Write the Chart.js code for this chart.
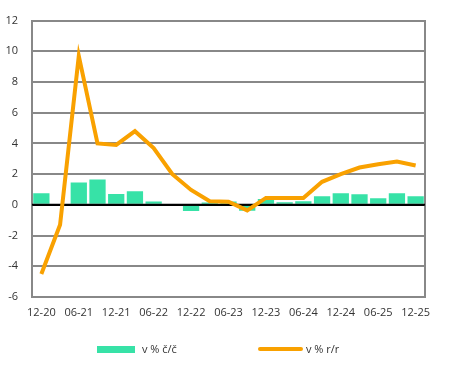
<!DOCTYPE html>
<html>
<head>
<meta charset="utf-8">
<script src="https://cdn.jsdelivr.net/npm/chart.js@4/dist/chart.umd.min.js"></script>
<style>
  html, body { margin: 0; padding: 0; background: #fff; }
  #wrap { position: relative; width: 451px; height: 367px; }
  canvas { display: block; }
  .lg { position: absolute; font-family: "Open Sans", sans-serif; font-size: 11px; color: #333; line-height: 14px; white-space: nowrap; }
  .sw { position: absolute; }
</style>
</head>
<body>
<div id="wrap">
  <canvas id="c" width="451" height="367"></canvas>
  <div class="sw" id="sw1" style="left:97px; top:346px; width:38px; height:7px;"></div>
  <div class="lg" id="lt1" style="left:142px; top:342px;"></div>
  <div class="sw" id="sw2" style="left:258px; top:347px; width:45px; height:4px; border-radius:2px;"></div>
  <div class="lg" id="lt2" style="left:306px; top:342px;"></div>
</div>
<script>
const categories = ["12-20","03-21","06-21","09-21","12-21","03-22","06-22","09-22","12-22","03-23","06-23","09-23","12-23","03-24","06-24","09-24","12-24","03-25","06-25","09-25","12-25"];
const qoqValues = [0.75, 0.0, 1.45, 1.65, 0.7, 0.88, 0.22, 0.0, -0.4, 0.15, 0.22, -0.38, 0.38, 0.17, 0.23, 0.56, 0.75, 0.69, 0.43, 0.75, 0.56];
const yoyValues = [-4.5, -1.3, 9.7, 4.0, 3.9, 4.8, 3.7, 2.0, 0.97, 0.24, 0.2, -0.36, 0.45, 0.45, 0.45, 1.5, 2.0, 2.43, 2.65, 2.82, 2.56];
const seriesNames = ["v % č/č", "v % r/r"];
const yTicks = { min: -6, max: 12, step: 2 };

const green = "#37E2A7";
const orange = "#F9A100";
const gridGray = "#888888";
const textColor = "#333333";
const fontFamily = "'Open Sans', sans-serif";

document.getElementById('sw1').style.background = green;
document.getElementById('sw2').style.background = orange;
document.getElementById('lt1').textContent = seriesNames[0];
document.getElementById('lt2').textContent = seriesNames[1];

const zeroLine = {
  id: 'zeroLine',
  beforeDatasetDraw(chart, args) {
    if (args.index !== 1) return;
    const y = chart.scales.y.getPixelForValue(0);
    const ctx = chart.ctx;
    ctx.save();
    ctx.strokeStyle = '#000';
    ctx.lineWidth = 2;
    ctx.beginPath();
    ctx.moveTo(chart.chartArea.left, y);
    ctx.lineTo(chart.chartArea.right, y);
    ctx.stroke();
    ctx.restore();
  }
};

new Chart(document.getElementById('c'), {
  data: {
    labels: categories,
    datasets: [
      {
        type: 'bar',
        label: seriesNames[0],
        data: qoqValues,
        backgroundColor: green,
        borderWidth: 0,
        categoryPercentage: 0.87,
        barPercentage: 1.0,
        order: 2,
        yAxisID: 'y'
      },
      {
        type: 'line',
        label: seriesNames[1],
        data: yoyValues,
        borderColor: orange,
        backgroundColor: orange,
        borderWidth: 4,
        tension: 0,
        pointRadius: 0,
        pointHoverRadius: 0,
        borderJoinStyle: 'miter',
        fill: false,
        order: 1,
        yAxisID: 'y'
      }
    ]
  },
  options: {
    responsive: false,
    animation: false,
    devicePixelRatio: 1,
    layout: { padding: { left: 0, right: 0, top: 10, bottom: 44 } },
    plugins: {
      legend: { display: false },
      tooltip: { enabled: false }
    },
    scales: {
      x: {
        type: 'category',
        offset: true,
        grid: { display: false, drawTicks: false },
        border: { display: true, color: gridGray, width: 2 },
        ticks: {
          autoSkip: false,
          maxRotation: 0,
          minRotation: 0,
          padding: 9,
          color: textColor,
          font: { family: fontFamily, size: 11 },
          callback: function(val, i) { return i % 2 === 0 ? categories[i] : ''; }
        },
        afterFit(scale) { scale.height = 26; }
      },
      y: {
        position: 'left',
        min: yTicks.min,
        max: yTicks.max,
        grid: {
          drawTicks: false,
          lineWidth: 2,
          color: (c) => (c.tick && c.tick.value === 0) ? '#000000' : gridGray
        },
        border: { display: true, color: gridGray, width: 2 },
        ticks: {
          stepSize: yTicks.step,
          padding: 14,
          color: textColor,
          font: { family: fontFamily, size: 11 }
        },
        afterFit(scale) { scale.width = 32; }
      },
      y2: {
        position: 'right',
        min: yTicks.min,
        max: yTicks.max,
        grid: { display: false, drawTicks: false },
        border: { display: true, color: gridGray, width: 2 },
        ticks: { display: false },
        afterFit(scale) { scale.width = 26; }
      }
    }
  },
  plugins: [zeroLine]
});
</script>
</body>
</html>
